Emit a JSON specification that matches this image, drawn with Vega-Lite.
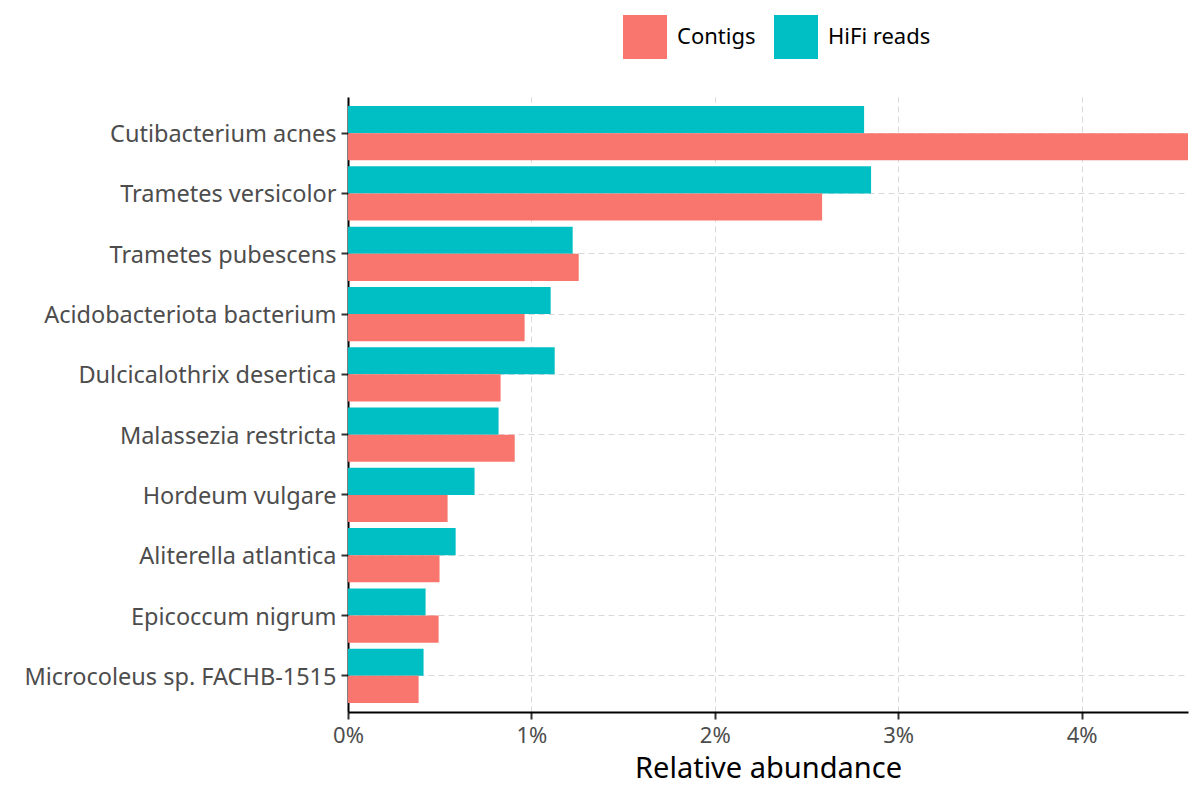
{
  "$schema": "https://vega.github.io/schema/vega-lite/v6.json",
  "width": 840,
  "height": 615,
  "autosize": {"type": "none"},
  "padding": {"left": 348, "top": 97, "right": 12, "bottom": 88},
  "background": "white",
  "config": {
    "font": "Noto Sans",
    "view": {"stroke": null},
    "axis": {"labelFont": "Noto Sans", "titleFont": "Noto Sans"}
  },
  "data": {
    "values": [
      {"species": "Cutibacterium acnes", "source": "HiFi reads", "abundance": 2.814},
      {"species": "Cutibacterium acnes", "source": "Contigs", "abundance": 4.58},
      {"species": "Trametes versicolor", "source": "HiFi reads", "abundance": 2.852},
      {"species": "Trametes versicolor", "source": "Contigs", "abundance": 2.585},
      {"species": "Trametes pubescens", "source": "HiFi reads", "abundance": 1.225},
      {"species": "Trametes pubescens", "source": "Contigs", "abundance": 1.258},
      {"species": "Acidobacteriota bacterium", "source": "HiFi reads", "abundance": 1.105},
      {"species": "Acidobacteriota bacterium", "source": "Contigs", "abundance": 0.963},
      {"species": "Dulcicalothrix desertica", "source": "HiFi reads", "abundance": 1.127},
      {"species": "Dulcicalothrix desertica", "source": "Contigs", "abundance": 0.832},
      {"species": "Malassezia restricta", "source": "HiFi reads", "abundance": 0.821},
      {"species": "Malassezia restricta", "source": "Contigs", "abundance": 0.909},
      {"species": "Hordeum vulgare", "source": "HiFi reads", "abundance": 0.69},
      {"species": "Hordeum vulgare", "source": "Contigs", "abundance": 0.543},
      {"species": "Aliterella atlantica", "source": "HiFi reads", "abundance": 0.587},
      {"species": "Aliterella atlantica", "source": "Contigs", "abundance": 0.499},
      {"species": "Epicoccum nigrum", "source": "HiFi reads", "abundance": 0.423},
      {"species": "Epicoccum nigrum", "source": "Contigs", "abundance": 0.494},
      {"species": "Microcoleus sp. FACHB-1515", "source": "HiFi reads", "abundance": 0.412},
      {"species": "Microcoleus sp. FACHB-1515", "source": "Contigs", "abundance": 0.385}
    ]
  },
  "mark": {"type": "bar"},
  "encoding": {
    "y": {
      "field": "species",
      "type": "nominal",
      "sort": ["Cutibacterium acnes", "Trametes versicolor", "Trametes pubescens", "Acidobacteriota bacterium", "Dulcicalothrix desertica", "Malassezia restricta", "Hordeum vulgare", "Aliterella atlantica", "Epicoccum nigrum", "Microcoleus sp. FACHB-1515"],
      "scale": {"paddingInner": 0.1, "paddingOuter": 0.15},
      "axis": {
        "title": null,
        "domain": true,
        "domainColor": "black",
        "domainWidth": 2,
        "ticks": true,
        "tickColor": "#333333",
        "tickWidth": 2,
        "tickSize": 7,
        "labelFontSize": 23.5,
        "labelColor": "#4d4d4d",
        "labelPadding": 5,
        "labelOffset": 2,
        "labelLimit": 500,
        "labelBaseline": "middle",
        "grid": true,
        "gridColor": "#d9d9d9",
        "gridDash": [6, 4],
        "gridWidth": 1,
        "bandPosition": 0.5
      }
    },
    "yOffset": {
      "field": "source",
      "type": "nominal",
      "sort": ["HiFi reads", "Contigs"],
      "scale": {"paddingInner": 0, "paddingOuter": 0}
    },
    "x": {
      "field": "abundance",
      "type": "quantitative",
      "scale": {"domain": [0, 4.58], "nice": false, "zero": true},
      "axis": {
        "title": "Relative abundance",
        "titleFontSize": 29,
        "titleFontWeight": "normal",
        "titleColor": "black",
        "titlePadding": 8,
        "values": [0, 1, 2, 3, 4],
        "labelExpr": "datum.value + '%'",
        "labelFontSize": 22,
        "labelColor": "#4d4d4d",
        "labelPadding": 6,
        "labelFlush": false,
        "domain": true,
        "domainColor": "black",
        "domainWidth": 2,
        "tickColor": "#333333",
        "tickWidth": 2,
        "tickSize": 7,
        "grid": true,
        "gridColor": "#d9d9d9",
        "gridDash": [6, 4],
        "gridWidth": 1
      }
    },
    "color": {
      "field": "source",
      "type": "nominal",
      "scale": {"domain": ["Contigs", "HiFi reads"], "range": ["#F8766D", "#00BFC4"]},
      "legend": {
        "title": null,
        "orient": "none",
        "legendX": 275,
        "legendY": -82,
        "direction": "horizontal",
        "symbolType": "square",
        "symbolSize": 1936,
        "symbolStrokeWidth": 0,
        "symbolOpacity": 1,
        "labelFontSize": 22,
        "labelColor": "black",
        "labelOffset": 10,
        "columnPadding": 18
      }
    }
  }
}
